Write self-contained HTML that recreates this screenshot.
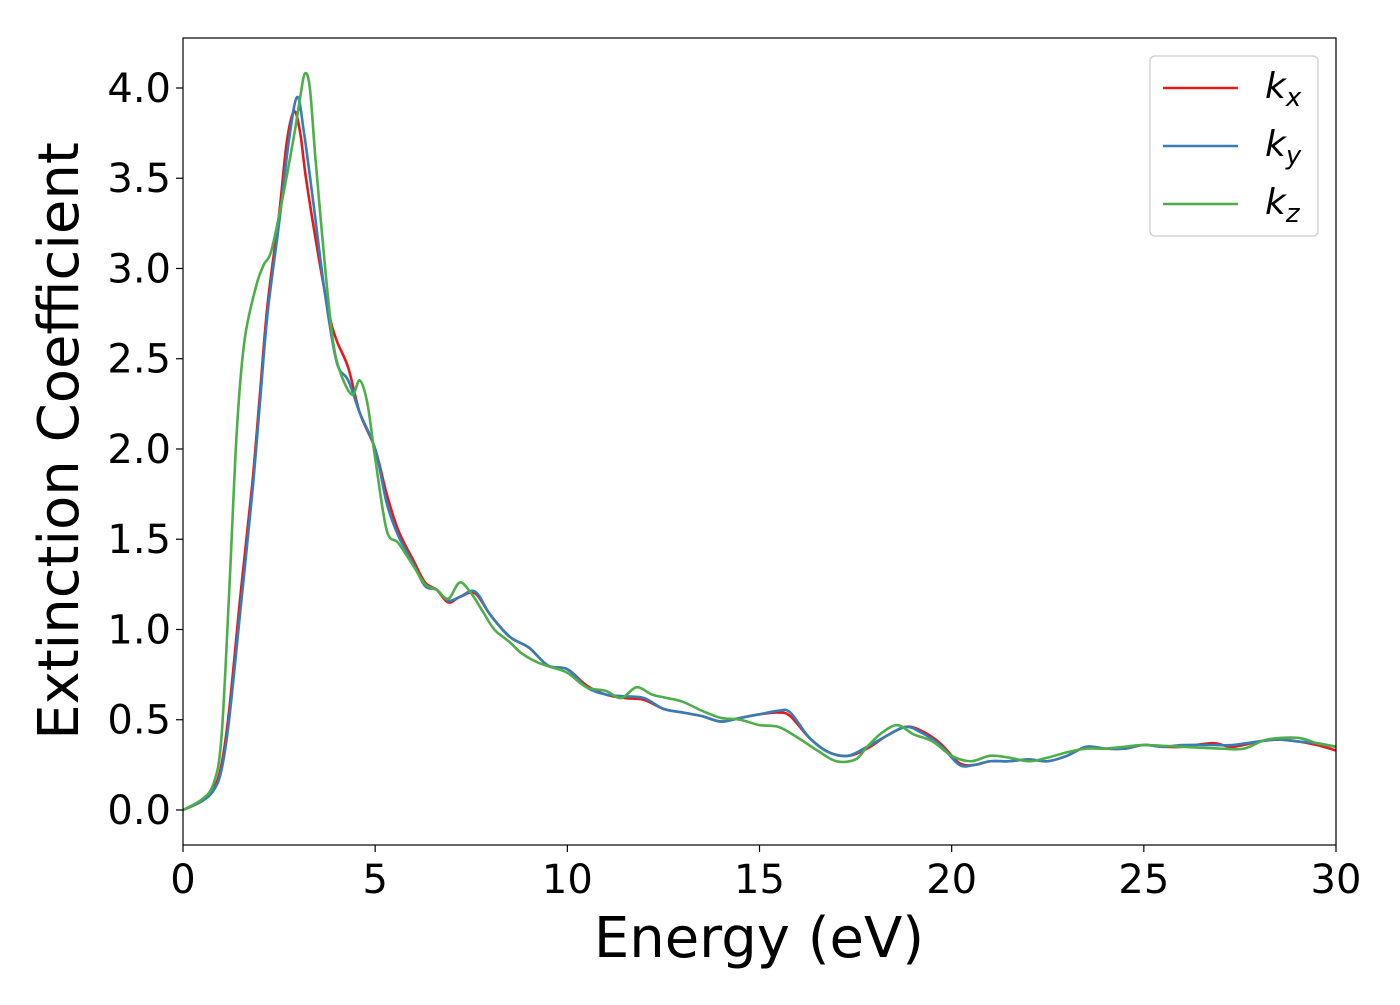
<!DOCTYPE html>
<html><head><meta charset="utf-8"><style>
body{margin:0;background:#fff;}
svg text{font-family:"DejaVu Sans","Liberation Sans",sans-serif;}
</style></head><body>
<svg id="chart" width="1400" height="1000" viewBox="0 0 1400 1000" xmlns="http://www.w3.org/2000/svg">
<rect width="1400" height="1000" fill="#fff"/>
<g id="plot"></g>
<g id="axes"></g>
</svg>
<script>
const xTicks=[0,5,10,15,20,25,30];
const yTicks=[0.0,0.5,1.0,1.5,2.0,2.5,3.0,3.5,4.0];
const kxE=[0,0.5,0.8,1.0,1.2,1.5,1.8,2.0,2.2,2.5,2.7,2.89,3.05,3.2,3.5,3.8,4.0,4.3,4.6,5.0,5.3,5.6,6.0,6.3,6.6,6.9,7.2,7.6,8.0,8.5,9.0,9.5,10,10.5,11,11.5,12,12.5,13,13.5,14,14.5,15,15.5,15.8,16.3,16.8,17.3,17.8,18.3,18.8,19.2,19.7,20.2,20.6,21,21.5,22,22.5,23,23.5,24,24.5,25,25.5,26,26.8,27.3,28,28.5,29,29.5,30];
const kxV=[0,0.05,0.12,0.25,0.55,1.2,1.8,2.3,2.8,3.3,3.7,3.87,3.75,3.5,3.1,2.75,2.6,2.45,2.2,2.0,1.75,1.55,1.38,1.26,1.22,1.15,1.18,1.2,1.08,0.96,0.9,0.8,0.78,0.69,0.64,0.62,0.61,0.56,0.54,0.52,0.49,0.51,0.53,0.54,0.52,0.4,0.32,0.3,0.34,0.41,0.46,0.44,0.37,0.26,0.25,0.27,0.27,0.28,0.27,0.3,0.35,0.34,0.34,0.36,0.35,0.35,0.37,0.35,0.38,0.39,0.38,0.36,0.33];
const kyE=[0,0.5,0.8,1.0,1.2,1.5,1.8,2.0,2.2,2.5,2.75,2.97,3.15,3.4,3.7,4.0,4.3,4.6,5.0,5.3,5.6,6.0,6.3,6.6,6.9,7.2,7.6,8.0,8.5,9.0,9.5,10,10.5,11,11.5,12,12.5,13,13.5,14,14.5,15,15.5,15.8,16.3,16.8,17.3,17.8,18.3,18.8,19.2,19.7,20.2,20.6,21,21.5,22,22.5,23,23.5,24,24.5,25,25.5,26,26.8,27.3,28,28.5,29,29.5,30];
const kyV=[0,0.05,0.11,0.22,0.5,1.12,1.75,2.25,2.75,3.25,3.7,3.95,3.75,3.35,2.85,2.48,2.38,2.2,2.0,1.7,1.52,1.36,1.24,1.22,1.16,1.18,1.21,1.08,0.96,0.9,0.8,0.78,0.68,0.64,0.63,0.62,0.56,0.54,0.52,0.49,0.51,0.53,0.55,0.54,0.4,0.32,0.3,0.35,0.41,0.46,0.43,0.36,0.25,0.25,0.27,0.27,0.28,0.27,0.3,0.35,0.34,0.34,0.36,0.35,0.36,0.36,0.36,0.38,0.39,0.38,0.37,0.35];
const kzE=[0,0.5,0.8,1.0,1.2,1.4,1.6,1.9,2.1,2.3,2.6,2.9,3.05,3.17,3.3,3.45,3.7,3.9,4.1,4.4,4.6,4.8,5.0,5.3,5.6,6.0,6.3,6.6,6.9,7.2,7.5,7.8,8.1,8.5,8.8,9.2,9.6,10,10.5,11,11.4,11.8,12.2,12.6,13,13.5,14,14.5,15,15.5,16,16.5,17,17.5,17.8,18.2,18.6,19,19.5,20,20.5,21,21.5,22,22.5,23,23.5,24,24.5,25,26,27,27.6,28.2,29,29.5,30];
const kzV=[0,0.06,0.15,0.4,1.2,2.1,2.6,2.9,3.02,3.1,3.4,3.75,3.95,4.08,4.0,3.6,3.0,2.6,2.42,2.3,2.38,2.25,1.95,1.55,1.48,1.35,1.25,1.22,1.17,1.26,1.2,1.1,1.0,0.93,0.87,0.82,0.79,0.76,0.68,0.66,0.62,0.68,0.64,0.62,0.6,0.55,0.51,0.5,0.47,0.46,0.4,0.33,0.27,0.28,0.35,0.43,0.47,0.42,0.38,0.3,0.27,0.3,0.29,0.27,0.29,0.32,0.34,0.34,0.35,0.36,0.35,0.34,0.34,0.39,0.4,0.37,0.35];
const X0=183,X1=1336,Y0=38,Y1=845;
const xMin=0,xMax=30,yMin=-0.194,yMax=4.277;
function xs(v){return X0+(v-xMin)/(xMax-xMin)*(X1-X0);}
function ys(v){return Y1-(v-yMin)/(yMax-yMin)*(Y1-Y0);}
const NS="http://www.w3.org/2000/svg";
const plot=document.getElementById('plot'),axes=document.getElementById('axes');
function mk(t,a,p){const e=document.createElementNS(NS,t);for(const k in a)e.setAttribute(k,a[k]);(p||plot).appendChild(e);return e;}
function pathFor(E,V){const p=E.map((e,i)=>[xs(e),ys(V[i])]);let d='M'+p[0][0]+','+p[0][1];
for(let i=0;i<p.length-1;i++){const a=p[Math.max(0,i-1)],b=p[i],c=p[i+1],n=p[Math.min(p.length-1,i+2)];
const c1=[b[0]+(c[0]-a[0])/6,b[1]+(c[1]-a[1])/6],c2=[c[0]-(n[0]-b[0])/6,c[1]-(n[1]-b[1])/6];
d+=' C'+c1[0]+','+c1[1]+' '+c2[0]+','+c2[1]+' '+c[0]+','+c[1];}return d;}
const cp=mk('clipPath',{id:'clip'});mk('rect',{x:X0,y:Y0,width:X1-X0,height:Y1-Y0},cp);
const series=[[kxE,kxV,'#e41a1c','series-kx'],[kyE,kyV,'#377eb8','series-ky'],[kzE,kzV,'#4daf4a','series-kz']];
series.forEach(s=>{const el=mk('path',{d:pathFor(s[0],s[1]),fill:'none',stroke:s[2],'stroke-width':2.6,'clip-path':'url(#clip)'});

});
const fr=mk('rect',{x:X0,y:Y0,width:X1-X0,height:Y1-Y0,fill:'none',stroke:'#000','stroke-width':1.2},axes);


xTicks.forEach(t=>{mk('line',{x1:xs(t),x2:xs(t),y1:Y1,y2:Y1+7,stroke:'#000','stroke-width':1.2},axes);
const tx=mk('text',{x:xs(t),y:Y1+48,'font-size':40,'text-anchor':'middle'},axes);tx.textContent=t;

});
yTicks.forEach(t=>{mk('line',{x1:X0-7,x2:X0,y1:ys(t),y2:ys(t),stroke:'#000','stroke-width':1.2},axes);
const tx=mk('text',{x:X0-12,y:ys(t)+14,'font-size':40,'text-anchor':'end'},axes);tx.textContent=t.toFixed(1);

});
const xl=mk('text',{x:759,y:957,'font-size':56,'text-anchor':'middle'},axes);xl.textContent='Energy (eV)';


const yl=mk('text',{x:78,y:441,'font-size':56,'text-anchor':'middle',transform:'rotate(-90 78 441)'},axes);yl.textContent='Extinction Coefficient';


const lg=mk('g',{},axes);


mk('rect',{x:1150,y:56,width:168,height:180,rx:5,fill:'#fff',stroke:'#ccc','stroke-width':1.2},lg);
['x','y','z'].forEach((s,i)=>{const y=88+i*58;
mk('line',{x1:1163,x2:1238,y1:y,y2:y,stroke:series[i][2],'stroke-width':2.6},lg);
const t=mk('text',{x:1265,y:y+10,'font-size':36,'font-style':'italic'},lg);
t.innerHTML='k<tspan font-size="26" dy="8">'+s+'</tspan>';

});
</script>
</body></html>
